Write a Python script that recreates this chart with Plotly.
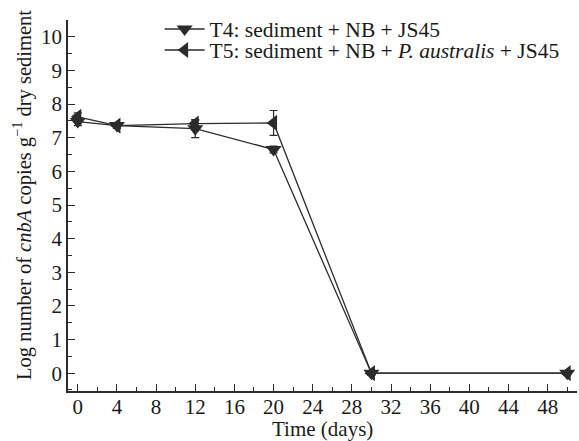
import plotly.graph_objects as go

# Sampling days and log10 cnbA copy numbers per treatment
days = [0, 4, 12, 20, 30, 50]
t4_log = [7.48, 7.36, 7.27, 6.65, 0.0, 0.0]
t4_err = [0.12, 0.08, 0.27, 0.10, 0.05, 0.05]
t5_log = [7.62, 7.36, 7.42, 7.44, 0.0, 0.0]
t5_err = [0.12, 0.08, 0.10, 0.37, 0.05, 0.05]

t4_name = "T4: sediment + NB + JS45"
t5_name = "T5: sediment + NB + <i>P. australis</i> + JS45"
x_title = "Time (days)"
y_title = "Log number of <i>cnbA</i> copies g<sup>−1</sup> dry sediment"

x_ticks = list(range(0, 49, 4))
y_ticks = list(range(0, 11))

ink = "#2b2b2b"
serif = "Liberation Serif"
txt = "#1a1a1a"

fig = go.Figure()
fig.add_trace(go.Scatter(
    x=days, y=t4_log, name=t4_name, mode="lines+markers",
    legend="legend", showlegend=True,
    line=dict(color=ink, width=1.3),
    marker=dict(symbol="triangle-down", size=14, color=ink),
    error_y=dict(type="data", array=t4_err, color=ink, thickness=1.2, width=4),
))
fig.add_trace(go.Scatter(
    x=days, y=t5_log, name=t5_name, mode="lines+markers",
    legend="legend2", showlegend=True,
    line=dict(color=ink, width=1.3),
    marker=dict(symbol="triangle-left", size=14, color=ink),
    error_y=dict(type="data", array=t5_err, color=ink, thickness=1.2, width=4),
))

legend_common = dict(
    xref="paper", yref="paper", xanchor="left", yanchor="middle",
    bgcolor="rgba(0,0,0,0)", itemwidth=40,
    font=dict(family=serif, size=21.5, color=txt),
)
axis_common = dict(
    ticks="inside", ticklen=7, tickwidth=1.3, tickcolor=ink,
    showline=True, linecolor=ink, linewidth=1.5,
    showgrid=False, zeroline=False,
    tickfont=dict(family=serif, size=21, color=txt),
)

# plot area spans 68..577 px horizontally and 20..391 px vertically
fig.update_layout(
    width=579, height=441,
    margin=dict(l=68, r=2, t=20, b=50),
    paper_bgcolor="white", plot_bgcolor="white",
    font=dict(family=serif, size=21, color=txt),
    legend=dict(x=0.18, y=1.0 - (29 - 20) / 371, **legend_common),
    legend2=dict(x=0.18, y=1.0 - (50 - 20) / 371, **legend_common),
    xaxis=dict(
        range=[-1, 51], tickvals=x_ticks, ticklabelstandoff=-4,
        minor=dict(dtick=2, tick0=0, ticks="inside", ticklen=4,
                   tickcolor=ink, tickwidth=1.3, showgrid=False),
        **axis_common,
    ),
    yaxis=dict(
        range=[-0.53, 10.5], tickvals=y_ticks,
        minor=dict(dtick=0.5, tick0=0, ticks="inside", ticklen=4,
                   tickcolor=ink, tickwidth=1.3, showgrid=False),
        **axis_common,
    ),
    annotations=[
        dict(
            text=y_title, textangle=-90, showarrow=False,
            xref="paper", yref="paper",
            x=(22 - 68) / 509, y=(391 - 195) / 371,
            xanchor="center", yanchor="middle",
            font=dict(family=serif, size=20.5, color=txt),
        ),
        dict(
            text=x_title, showarrow=False,
            xref="paper", yref="paper",
            x=0.5, y=(391 - 429) / 371,
            xanchor="center", yanchor="middle",
            font=dict(family=serif, size=21, color=txt),
        ),
    ],
)

fig.write_html("out.html")
